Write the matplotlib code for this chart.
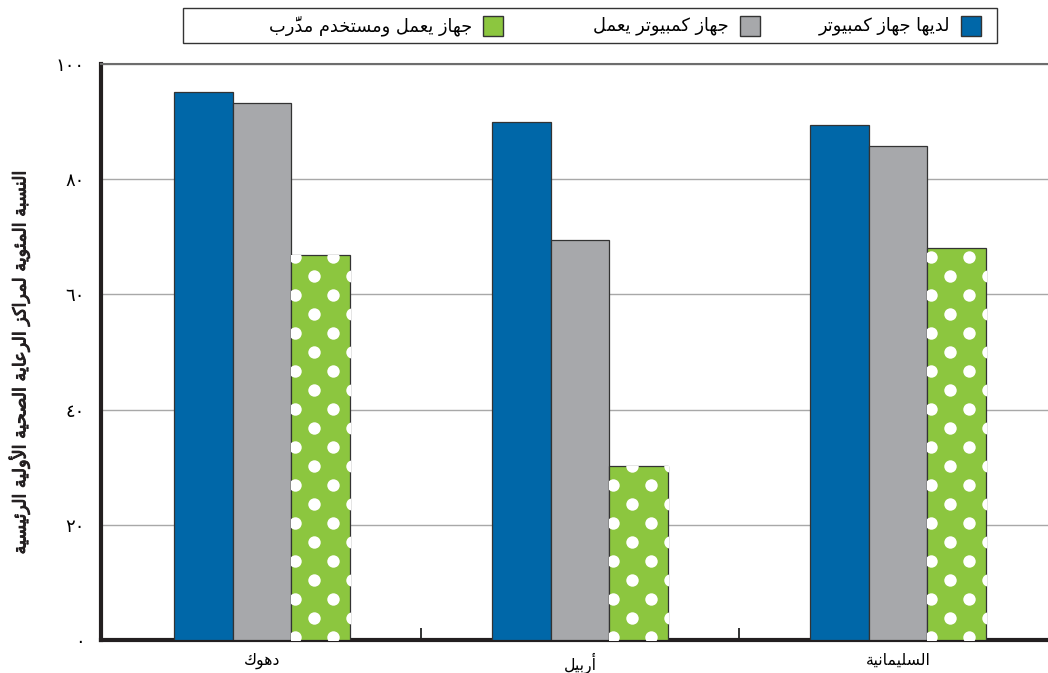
import matplotlib
matplotlib.use("Agg")
import matplotlib.pyplot as plt
from matplotlib.patches import Rectangle
import matplotlib.patheffects as pe
import numpy as np

# ---------------- data ----------------
categories = ["دهوك", "أربيل", "السليمانية"]
series_names = ["لديها جهاز كمبيوتر", "جهاز كمبيوتر يعمل", "جهاز يعمل ومستخدم مدرَّب"]
has_computer = [95.1, 89.9, 89.4]
working_computer = [93.2, 69.4, 85.8]
working_trained = [66.8, 30.2, 68.1]
y_ticks = [0, 20, 40, 60, 80, 100]
y_tick_labels = ["٠", "٢٠", "٤٠", "٦٠", "٨٠", "١٠٠"]
y_label = "النسبة المئوية لمراكز الرعاية الصحية الأولية الرئيسية"

colors = ["#0067a8", "#a7a8ab", "#8cc63f"]
edge = "#333333"

# ---------------- simple Arabic shaping ----------------
DUAL = {0x626: 0xFE89, 0x628: 0xFE8F, 0x62A: 0xFE95, 0x62B: 0xFE99, 0x62C: 0xFE9D,
        0x62D: 0xFEA1, 0x62E: 0xFEA5, 0x633: 0xFEB1, 0x634: 0xFEB5, 0x635: 0xFEB9,
        0x636: 0xFEBD, 0x637: 0xFEC1, 0x638: 0xFEC5, 0x639: 0xFEC9, 0x63A: 0xFECD,
        0x641: 0xFED1, 0x642: 0xFED5, 0x643: 0xFED9, 0x644: 0xFEDD, 0x645: 0xFEE1,
        0x646: 0xFEE5, 0x647: 0xFEE9, 0x64A: 0xFEF1}
RIGHT = {0x622: 0xFE81, 0x623: 0xFE83, 0x624: 0xFE85, 0x625: 0xFE87, 0x627: 0xFE8D,
         0x629: 0xFE93, 0x62F: 0xFEA9, 0x630: 0xFEAB, 0x631: 0xFEAD, 0x632: 0xFEAF,
         0x648: 0xFEED, 0x649: 0xFEEF}
NONJ = {0x621: 0xFE80}
LAMALEF = {0x622: 0xFEF5, 0x623: 0xFEF7, 0x625: 0xFEF9, 0x627: 0xFEFB}


def is_mark(c):
    return 0x64B <= ord(c) <= 0x652


def shape(text):
    chars = list(text)
    n = len(chars)
    clusters = []
    i = 0
    prev_joins = False
    while i < n:
        c = chars[i]
        o = ord(c)
        if is_mark(c):
            if clusters:
                clusters[-1].append(c)
            i += 1
            continue
        j = i + 1
        marks = []
        while j < n and is_mark(chars[j]):
            marks.append(chars[j]); j += 1
        nxt = ord(chars[j]) if j < n else None
        if o == 0x644 and nxt in LAMALEF:
            base = LAMALEF[nxt]
            g = chr(base + (1 if prev_joins else 0))
            k = j + 1
            m2 = []
            while k < n and is_mark(chars[k]):
                m2.append(chars[k]); k += 1
            clusters.append([g] + marks + m2)
            prev_joins = False
            i = k
            continue
        next_joinable = nxt is not None and (nxt in DUAL or nxt in RIGHT)
        if o in DUAL:
            b = DUAL[o]
            if prev_joins and next_joinable:
                g = b + 3
            elif prev_joins:
                g = b + 1
            elif next_joinable:
                g = b + 2
            else:
                g = b
            clusters.append([chr(g)] + marks)
            prev_joins = True
        elif o in RIGHT:
            b = RIGHT[o]
            g = b + 1 if prev_joins else b
            clusters.append([chr(g)] + marks)
            prev_joins = False
        elif o in NONJ:
            clusters.append([chr(NONJ[o])] + marks)
            prev_joins = False
        else:
            clusters.append([c] + marks)
            prev_joins = False
        i = j
    return "".join("".join(cl) for cl in reversed(clusters))


plt.rcParams['font.family'] = ['DejaVu Sans']

# ---------------- figure ----------------
W, H, DPI = 1048, 673, 100
fig = plt.figure(figsize=(W / DPI, H / DPI), dpi=DPI)
left_px, right_px, top_px, bottom_px = 101, 1057, 64, 640
ax = fig.add_axes([left_px / W, 1 - bottom_px / H, (right_px - left_px) / W, (bottom_px - top_px) / H])

x = np.arange(len(categories))
width = 0.184
series = [has_computer, working_computer, working_trained]
offsets = [-width, 0, width]
bar_groups = []
for vals, off, col in zip(series, offsets, colors):
    bars = ax.bar(x + off, vals, width, color=col, edgecolor=edge, linewidth=0.9, zorder=3)
    bar_groups.append(bars)

ax.set_xlim(-0.506, 2.5)
ax.set_ylim(0, 100)
ax.set_axisbelow(True)
ax.yaxis.grid(True, color="#a8a8a8", linewidth=1.0)
ax.set_yticks(y_ticks)
ax.set_yticklabels(y_tick_labels, fontsize=13)
ax.tick_params(axis='y', length=0, pad=12)

ax.set_xticks(x)
ax.set_xticklabels([shape(c) for c in categories], fontsize=11.3)
ax.tick_params(axis='x', length=0, pad=9)
ax.set_xticks([0.5, 1.5], minor=True)
ax.tick_params(axis='x', which='minor', direction='in', length=9, width=1.3, color="#222222")

ax.spines["right"].set_visible(False)
ax.spines["top"].set_color("#6d6d6d")
ax.spines["top"].set_linewidth(1.5)
ax.spines["left"].set_color("#231f20")
ax.spines["left"].set_linewidth(3.0)
ax.spines["bottom"].set_color("#231f20")
ax.spines["bottom"].set_linewidth(3.0)

fig.text(19 / W, 1 - 362 / H, shape(y_label), rotation=90, ha='center', va='center',
         fontsize=12.7, color="#231f20",
         path_effects=[pe.withStroke(linewidth=0.7, foreground="#231f20")])

# ---------------- dot pattern on green bars ----------------
inv = ax.transData.inverted()
renderer = fig.canvas.get_renderer()
for bar in bar_groups[2]:
    bb = bar.get_window_extent(renderer=renderer)
    pts = []
    r = 0
    yy = bb.y0 + 3
    while yy < bb.y1 + 8:
        xx = bb.x0 + (4 if r % 2 == 0 else 23)
        while xx < bb.x1 + 8:
            pts.append((xx, yy))
            xx += 38
        yy += 19
        r += 1
    pts = inv.transform(np.array(pts))
    sc = ax.scatter(pts[:, 0], pts[:, 1], s=80, color="white", linewidths=0, zorder=4)
    sc.set_clip_path(bar)

# ---------------- legend (RTL) ----------------
fig.patches.append(Rectangle((183 / W, 1 - 43 / H), (997 - 183) / W, 35 / H,
                             transform=fig.transFigure, facecolor="white",
                             edgecolor="#333333", linewidth=1.0))
sq_left = [961, 740, 483]
for name, col, sx in zip(series_names, colors, sq_left):
    fig.patches.append(Rectangle((sx / W, 1 - 36 / H), 20 / W, 20 / H,
                                 transform=fig.transFigure, facecolor=col,
                                 edgecolor="#333333", linewidth=1.0))
    fig.text((sx - 11) / W, 1 - 26 / H, shape(name), ha='right', va='center', fontsize=12.8)

fig.savefig("out.png", dpi=DPI)
